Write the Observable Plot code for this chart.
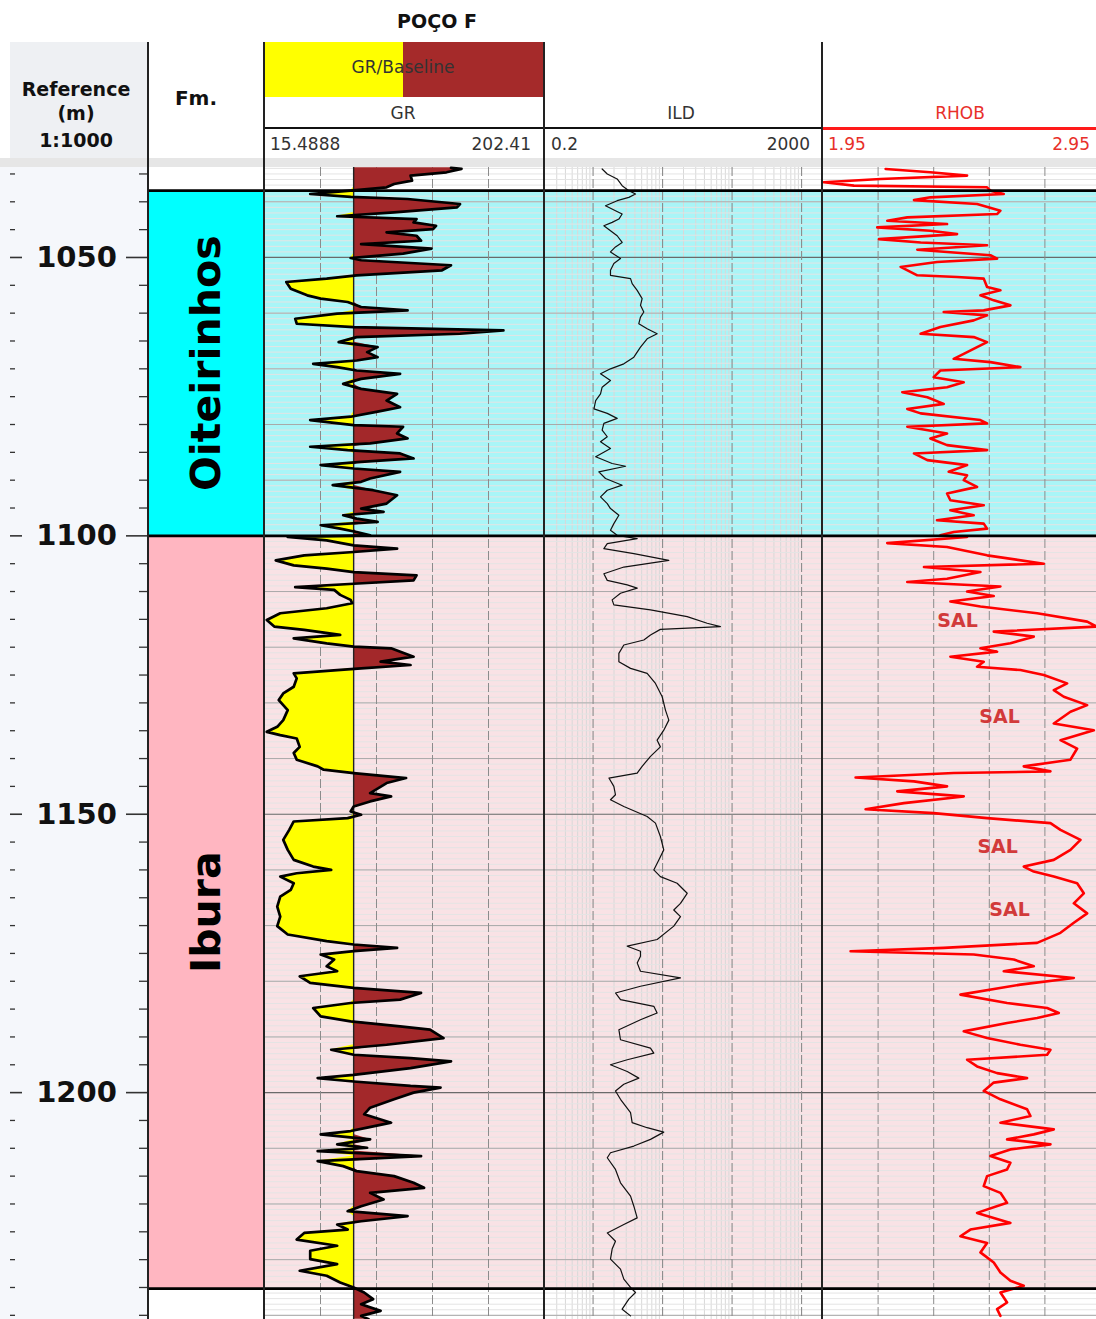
<!DOCTYPE html>
<html><head><meta charset="utf-8">
<script src="https://cdn.jsdelivr.net/npm/d3@7"></script>
<script src="https://cdn.jsdelivr.net/npm/@observablehq/plot@0.6"></script>
<style>
body{margin:0;background:#fff;font-family:"DejaVu Sans",sans-serif;}
#wrap{position:relative;width:1096px;height:1319px;overflow:hidden;background:#fff;}
.t{position:absolute;white-space:nowrap;line-height:1;}
</style></head><body><div id="wrap"></div>
<script>
// ---------------- DATA ----------------
const wellName = "POÇO F";
const formationNames = ["Oiteirinhos", "Ibura"];
const formationTop = [1038, 1100];
const formationBase = [1100, 1235.2];
const formationColor = ["#00ffff", "#ffb6c1"];
const formationTrackColor = ["#a9f5f7", "#f9e2e5"];

const depthLabels = [1050, 1100, 1150, 1200];
const grScale = [15.4888, 202.41];
const grBaseline = 75;
const ildScale = [0.2, 2000];
const rhobScale = [1.95, 2.95];

// GR [depth m, API]
const grLog = [[1033.9,140],[1034.1,147],[1034.7,137],[1035.3,113],[1036.2,114],[1036.8,102],[1037.4,97],[1038.0,73],[1038.6,46],[1039.1,73],[1039.5,111],[1040.4,146],[1041.0,144],[1041.9,102],[1042.6,64],[1043.1,117],[1043.7,115],[1044.3,130],[1044.9,128],[1045.5,97],[1046.1,117],[1047.0,120],[1047.6,80],[1048.4,127],[1049.3,108],[1050.1,73],[1050.5,80],[1051.4,140],[1052.3,134],[1053.2,77],[1053.8,57],[1054.4,30],[1055.6,33],[1056.8,44],[1057.4,53],[1058.0,71],[1058.9,80],[1059.5,111],[1060.1,64],[1061.0,36],[1061.9,37],[1062.5,75],[1063.1,175],[1063.7,146],[1064.3,77],[1065.2,65],[1066.1,91],[1067.0,84],[1067.9,91],[1068.5,77],[1069.1,48],[1069.7,64],[1070.3,77],[1070.9,106],[1071.8,80],[1072.7,68],[1073.6,80],[1074.5,104],[1075.7,97],[1076.9,106],[1077.7,91],[1078.6,73],[1079.2,46],[1080.1,75],[1080.4,108],[1081.6,104],[1082.5,111],[1083.4,86],[1084.0,46],[1084.6,71],[1085.2,106],[1086.1,115],[1086.7,80],[1087.3,53],[1087.9,75],[1088.5,106],[1089.7,86],[1090.3,80],[1090.9,61],[1091.8,88],[1092.7,104],[1094.2,97],[1095.1,80],[1095.7,95],[1096.3,68],[1096.9,77],[1097.5,91],[1098.1,53],[1098.7,66],[1099.3,77],[1099.9,86],
[1100.2,31],[1100.8,57],[1101.7,75],[1102.3,104],[1102.9,75],[1103.5,42],[1104.4,23],[1105.3,35],[1105.9,57],[1106.5,75],[1107.1,117],[1108.0,115],[1108.6,75],[1109.2,36],[1109.7,62],[1110.6,66],[1111.5,73],[1112.1,74],[1113.0,57],[1113.9,26],[1115.1,17],[1116.3,22],[1116.9,42],[1117.8,66],[1118.4,35],[1119.3,57],[1119.9,75],[1120.2,100],[1121.7,115],[1122.6,93],[1123.2,113],[1123.8,80],[1124.1,64],[1124.7,35],[1125.6,37],[1127.1,35],[1128.3,28],[1129.5,25],[1131.3,31],[1133.1,28],[1134.3,24],[1135.2,17],[1135.8,26],[1136.4,37],[1137.9,39],[1139.0,35],[1140.2,37],[1141.4,51],[1142.0,55],[1142.6,75],[1143.5,110],[1144.4,97],[1146.2,86],[1146.8,100],[1147.7,86],[1148.6,75],[1149.5,73],[1150.1,80],[1150.7,71],[1151.3,35],[1152.8,32],[1154.6,28],[1156.4,31],[1158.2,35],[1159.4,48],[1160.0,60],[1160.6,37],[1161.2,26],[1162.4,35],[1163.6,33],[1164.8,26],[1166.6,24],[1168.4,26],[1170.1,24],[1171.6,31],[1172.8,57],[1173.4,75],[1174.0,104],[1174.6,75],[1175.2,53],[1176.1,62],[1177.3,57],[1178.2,64],[1179.1,39],[1180.3,46],[1181.2,75],[1182.1,120],[1183.3,106],[1183.9,73],[1184.8,48],[1186.3,53],[1187.2,73],[1188.1,106],[1188.7,126],[1190.2,135],[1191.4,97],[1192.3,60],[1193.2,75],[1193.8,113],[1194.4,140],[1195.6,113],[1196.8,75],[1197.4,51],[1198.0,75],[1198.8,113],[1199.1,133],[1200.0,115],[1201.2,102],[1202.7,86],[1203.9,82],[1205.4,100],[1206.3,84],[1206.9,73],[1207.5,53],[1208.4,86],[1209.3,64],[1209.9,84],[1210.5,51],[1211.4,120],[1212.3,51],[1213.2,68],[1214.1,77],[1215.0,102],[1216.2,115],[1217.1,122],[1218.0,86],[1219.2,95],[1220.4,80],[1221.3,71],[1222.2,111],[1223.1,80],[1223.7,64],[1224.6,71],[1225.2,42],[1226.4,37],[1227.5,64],[1228.4,46],[1229.9,46],[1230.8,64],[1232.0,39],[1232.9,57],[1234.1,66],[1235.0,75],[1235.9,82],[1237.1,88],[1238.0,80],[1239.2,93],[1240.1,80],[1240.7,85]];

// ILD [depth m, ohm.m]
const ildLog = [[1034.1,1.35],[1035.0,1.6],[1035.9,2.22],[1037.1,2.62],[1038.0,3.27],[1038.6,4.08],[1039.2,3.27],[1039.8,2.22],[1040.7,1.51],[1041.6,2.1],[1042.2,2.62],[1043.1,2.35],[1043.7,1.88],[1044.3,1.43],[1045.2,1.78],[1046.1,2.22],[1047.3,2.62],[1048.1,2.1],[1049.0,1.78],[1050.2,2.48],[1051.1,1.99],[1052.3,1.78],[1053.2,1.78],[1053.8,3.46],[1054.7,3.65],[1055.9,4.31],[1057.4,5.08],[1058.6,4.81],[1059.8,5.37],[1060.7,4.81],[1061.9,4.55],[1062.8,6.0],[1063.7,8.35],[1064.6,6.0],[1066.1,4.81],[1067.9,3.86],[1069.1,2.77],[1070.0,1.78],[1070.9,1.28],[1072.1,1.78],[1073.3,1.35],[1074.5,1.28],[1075.7,1.09],[1077.2,1.03],[1078.0,1.6],[1078.9,2.22],[1079.8,1.43],[1081.0,1.35],[1082.2,1.6],[1083.1,1.28],[1084.3,1.78],[1085.8,1.09],[1087.0,1.88],[1087.5,2.93],[1088.5,1.21],[1089.7,1.51],[1090.9,2.62],[1091.8,1.6],[1093.0,1.28],[1094.2,1.6],[1095.1,1.78],[1096.3,2.35],[1097.8,1.99],[1099.0,1.78],[1099.9,2.22],
[1100.5,4.31],[1101.4,1.6],[1102.3,1.43],[1103.2,3.86],[1104.4,12.3],[1105.6,2.77],[1106.8,1.43],[1108.0,1.6],[1108.8,3.1],[1109.4,4.31],[1110.3,2.48],[1111.5,1.88],[1112.4,1.99],[1113.3,6.7],[1114.5,22.6],[1115.7,43.8],[1116.3,68],[1116.8,9.3],[1117.8,6.7],[1118.7,5.37],[1119.6,2.77],[1121.1,2.35],[1122.6,2.35],[1123.8,3.46],[1124.7,6.0],[1126.5,7.9],[1128.9,9.87],[1131.3,11.0],[1133.1,12.3],[1134.9,10.4],[1136.7,8.35],[1137.9,9.3],[1139.6,6.7],[1141.4,5.08],[1142.6,4.31],[1143.5,1.69],[1145.0,1.99],[1146.5,2.1],[1147.4,1.78],[1148.6,2.77],[1150.4,6.0],[1151.6,7.9],[1154.0,9.3],[1156.4,10.4],[1158.2,8.83],[1160.0,7.48],[1161.2,9.3],[1162.4,16.2],[1164.2,22.6],[1166.0,18.1],[1167.2,14.5],[1168.4,18.1],[1170.1,14.5],[1172.5,8.35],[1173.7,3.1],[1174.6,4.81],[1175.5,4.81],[1176.7,4.31],[1178.2,4.81],[1179.4,18.1],
[1180.9,4.81],[1182.1,2.1],[1183.3,2.48],[1184.5,7.48],[1185.7,8.35],[1186.9,4.81],[1188.7,2.35],[1190.5,2.48],[1192.0,6.7],[1192.9,7.48],[1194.1,3.1],[1195.0,1.78],[1196.2,3.1],[1197.4,4.55],[1198.5,2.77],[1199.7,2.1],[1201.2,2.48],[1203.6,3.46],[1205.4,3.65],[1206.3,6.0],[1207.1,10.4],[1208.4,6.7],[1209.6,3.86],[1210.8,1.78],[1211.7,1.6],[1213.8,2.1],[1216.2,2.48],[1218.6,3.46],[1220.4,3.86],[1222.5,4.31],[1223.7,2.77],[1225.2,1.6],[1226.7,2.1],[1228.1,1.88],[1229.9,1.78],[1231.7,2.48],[1233.5,2.77],[1235.0,3.46],[1235.9,4.08],[1237.1,3.27],[1238.9,2.62],[1240.1,3.46]];

// RHOB [depth m, g/cc]
const rhobLog = [[1034.1,2.177],[1034.7,2.338],[1035.3,2.470],[1035.9,2.159],[1036.5,1.955],[1037.1,2.063],[1037.4,2.542],[1038.0,2.554],[1038.6,2.602],[1039.2,2.338],[1039.7,2.279],[1040.4,2.506],[1041.6,2.590],[1042.2,2.578],[1042.8,2.255],[1043.4,2.183],[1044.0,2.398],[1044.6,2.147],[1045.2,2.338],[1045.8,2.434],[1046.7,2.153],[1047.3,2.303],[1047.8,2.542],[1048.6,2.291],[1049.6,2.554],[1050.2,2.578],[1050.8,2.362],[1051.7,2.231],[1053.2,2.291],[1053.5,2.434],[1053.8,2.530],[1055.3,2.542],[1055.9,2.590],[1056.8,2.518],[1057.7,2.566],[1058.6,2.626],[1059.5,2.530],[1059.8,2.386],[1060.4,2.542],[1061.3,2.494],[1062.5,2.374],[1063.7,2.303],[1064.3,2.494],[1065.2,2.542],[1066.1,2.506],[1067.3,2.458],[1068.2,2.422],[1068.8,2.554],[1069.7,2.662],[1070.3,2.374],[1071.5,2.350],[1072.4,2.458],[1073.3,2.398],[1074.2,2.237],[1075.1,2.327],[1076.3,2.386],[1077.2,2.255],[1078.0,2.303],[1079.2,2.518],[1079.8,2.542],[1080.4,2.255],[1081.6,2.398],[1082.5,2.338],[1083.7,2.398],[1084.6,2.542],[1085.2,2.279],[1086.4,2.327],[1087.3,2.470],[1088.5,2.404],[1089.1,2.470],[1090.0,2.458],[1091.2,2.506],[1092.4,2.398],[1093.6,2.410],[1094.5,2.530],[1095.4,2.410],[1096.3,2.494],[1097.2,2.362],[1097.8,2.530],[1098.7,2.542],[1099.3,2.422],[1099.9,2.374],
[1100.2,2.470],[1101.3,2.183],[1102.0,2.398],[1103.5,2.542],[1105.0,2.746],[1105.6,2.315],[1106.5,2.518],[1107.7,2.398],[1108.3,2.255],[1109.1,2.590],[1110.0,2.470],[1110.8,2.566],[1111.8,2.410],[1112.7,2.518],[1113.9,2.722],[1115.4,2.902],[1116.3,2.936],[1117.2,2.566],[1118.1,2.710],[1119.3,2.626],[1120.2,2.518],[1120.8,2.578],[1121.7,2.410],[1122.6,2.530],[1123.5,2.506],[1124.1,2.662],[1125.0,2.746],[1126.5,2.830],[1127.7,2.782],[1128.9,2.818],[1130.4,2.902],[1131.6,2.842],[1133.7,2.782],[1134.9,2.926],[1136.7,2.806],[1138.2,2.866],[1140.2,2.842],[1141.4,2.674],[1142.3,2.770],[1142.6,2.422],[1143.4,2.069],[1144.1,2.279],[1145.0,2.398],[1145.9,2.219],[1146.8,2.458],[1148.0,2.243],[1149.1,2.105],[1149.8,2.350],[1150.7,2.542],[1151.6,2.770],[1152.8,2.806],[1154.6,2.878],[1156.4,2.842],[1158.2,2.782],[1159.4,2.674],[1160.3,2.710],[1161.2,2.782],[1162.4,2.866],[1164.2,2.890],[1166.0,2.854],[1167.8,2.902],[1169.5,2.854],[1171.3,2.806],[1173.1,2.722],[1174.0,2.386],[1174.6,2.051],[1175.2,2.494],[1176.1,2.638],[1177.3,2.710],[1178.2,2.602],[1179.4,2.854],
[1180.6,2.662],[1182.4,2.446],[1183.9,2.614],[1184.8,2.758],[1185.7,2.800],[1186.6,2.722],[1187.5,2.614],[1189.0,2.458],[1190.2,2.542],[1191.4,2.662],[1192.3,2.770],[1193.2,2.758],[1194.1,2.470],[1195.3,2.506],[1196.5,2.578],[1197.4,2.686],[1198.2,2.566],[1199.7,2.530],[1201.2,2.590],[1203.0,2.686],[1204.2,2.698],[1205.4,2.590],[1206.6,2.782],[1207.5,2.710],[1208.4,2.614],[1209.3,2.770],[1210.2,2.626],[1211.4,2.554],[1212.6,2.626],[1213.8,2.614],[1215.0,2.542],[1216.8,2.530],[1218.0,2.590],[1219.8,2.614],[1221.6,2.506],[1223.4,2.626],[1224.6,2.482],[1225.8,2.446],[1227.0,2.542],[1228.7,2.518],[1230.5,2.566],[1232.3,2.590],[1233.8,2.626],[1234.7,2.674],[1235.9,2.590],[1237.7,2.614],[1238.9,2.578],[1240.1,2.590]];

const salDepth = [1115.3, 1132.5, 1155.8, 1167.2];
const salRhob = [2.436, 2.587, 2.58, 2.623];

// ---------------- BUILD ----------------
const wrap = document.getElementById("wrap");
const depthDomain = [1033.84, 1240.75];
const PLOT_TOP = 167, PLOT_H = 1152;
const FONT = "DejaVu Sans";

const gr = grLog.map(([d, v]) => ({d, v}));
const ild = ildLog.map(([d, v]) => ({d, v}));
const rhob = rhobLog.map(([d, v]) => ({d, v}));
const forms = formationNames.map((name, i) => ({name, top: formationTop[i], base: formationBase[i], fm: formationColor[i], bg: formationTrackColor[i]}));
const boundaries = [...formationTop, formationBase[formationBase.length - 1]];
const sal = salDepth.map((d, i) => ({d, v: salRhob[i]}));

function box(left, top, w, h, bg) {
  const el = document.createElement("div");
  Object.assign(el.style, {position: "absolute", left: left + "px", top: top + "px", width: w + "px", height: h + "px", background: bg});
  wrap.appendChild(el);
  return el;
}
function label(text, x, y, {size = 17, weight = "normal", color = "#222", anchor = "middle"} = {}) {
  const el = document.createElement("div");
  el.className = "t";
  el.textContent = text;
  Object.assign(el.style, {left: x + "px", top: y + "px", fontSize: size + "px", fontWeight: weight, color, fontFamily: FONT});
  const tx = anchor === "middle" ? "-50%" : anchor === "end" ? "-100%" : "0";
  el.style.transform = `translate(${tx},-50%)`;
  wrap.appendChild(el);
}
function place(node, left) {
  node.style.position = "absolute";
  node.style.left = left + "px";
  node.style.top = PLOT_TOP + "px";
  wrap.appendChild(node);
}

// header backgrounds
box(10, 42, 138, 116, "#eef0f3");
box(0, 158, 1096, 9, "#e6e6e6");
box(0, PLOT_TOP, 148, PLOT_H, "#f5f7fb");
box(264, 42, 139, 55, "#ffff00");
box(403, 42, 141, 55, "#a52a2a");
box(264, 127, 558, 2, "#111");
box(822, 126.5, 274, 3, "#ff1a1a");

label(wellName, 437, 21, {size: 19, weight: "bold", color: "#111"});
label("Reference", 76, 89, {size: 19, weight: "bold", color: "#111"});
label("(m)", 76, 113, {size: 19, weight: "bold", color: "#111"});
label("1:1000", 76, 140, {size: 19, weight: "bold", color: "#111"});
label("Fm.", 196, 98, {size: 20, weight: "bold", color: "#111"});
label("GR/Baseline", 403, 67, {size: 17, color: "#333"});
label("GR", 403, 113, {size: 17, color: "#333"});
label("ILD", 681, 113, {size: 17, color: "#333"});
label("RHOB", 960, 113, {size: 17, color: "#e8302a"});
label(String(grScale[0]), 270, 144, {size: 17, color: "#333", anchor: "start"});
label(String(grScale[1]), 531, 144, {size: 17, color: "#333", anchor: "end"});
label(String(ildScale[0]), 551, 144, {size: 17, color: "#333", anchor: "start"});
label(String(ildScale[1]), 810, 144, {size: 17, color: "#333", anchor: "end"});
label(rhobScale[0].toFixed(2), 828, 144, {size: 17, color: "#e8302a", anchor: "start"});
label(rhobScale[1].toFixed(2), 1090, 144, {size: 17, color: "#e8302a", anchor: "end"});

// grids
const minor1 = d3.range(1034, 1241, 1);
const grid10 = d3.range(1040, 1241, 10).filter(d => d % 50 !== 0);
const grid50 = depthLabels;
const hGrid = () => [
  Plot.ruleY(minor1, {stroke: "#e4e4e4", strokeWidth: 1}),
  Plot.ruleY(grid10, {stroke: "#a9a9a9", strokeWidth: 1}),
  Plot.ruleY(grid50, {stroke: "#6a6a6a", strokeWidth: 1.2})
];
const bounds = () => Plot.ruleY(boundaries, {stroke: "#000", strokeWidth: 2.6});
const bg = (dom) => Plot.rect(forms, {x1: dom[0], x2: dom[1], y1: "top", y2: "base", fill: "bg"});

function trackPlot(width, x, marks) {
  return Plot.plot({
    width, height: PLOT_H, margin: 0,
    x: {...x, axis: null},
    y: {domain: depthDomain, reverse: true, axis: null},
    color: {type: "identity"},
    style: {background: "transparent", fontFamily: FONT, overflow: "visible"},
    marks
  });
}

// Depth track
const minorTicks = d3.range(1035, 1241, 5).filter(d => d % 50 !== 0);
place(Plot.plot({
  width: 148, height: PLOT_H, margin: 0,
  y: {domain: depthDomain, reverse: true, axis: null},
  style: {background: "transparent", fontFamily: FONT},
  marks: [
    Plot.tickY(minorTicks, {y: d => d, insetLeft: 10, insetRight: 133, stroke: "#333", strokeWidth: 1.3}),
    Plot.tickY(minorTicks, {y: d => d, insetLeft: 139, insetRight: 0, stroke: "#333", strokeWidth: 1.3}),
    Plot.tickY(depthLabels, {y: d => d, insetLeft: 10, insetRight: 126, stroke: "#333", strokeWidth: 1.6}),
    Plot.tickY(depthLabels, {y: d => d, insetLeft: 126, insetRight: 0, stroke: "#333", strokeWidth: 1.6}),
    Plot.text(depthLabels, {y: d => d, text: d => String(d), frameAnchor: "left", dx: 76, textAnchor: "middle", fontSize: 29, fontWeight: "bold", fill: "#111"})
  ]
}), 0);

// Formation track
place(trackPlot(116, {domain: [0, 1]}, [
  Plot.rect(forms, {x1: 0, x2: 1, y1: "top", y2: "base", fill: "fm"}),
  Plot.text(forms, {x: 0.5, y: d => (d.top + d.base) / 2, text: "name", rotate: -90, fontSize: 41, fontWeight: "bold", fill: "#000"}),
  bounds()
]), 148);

// GR track
const grDiv = d3.range(1, 5).map(k => grScale[0] + k * (grScale[1] - grScale[0]) / 5);
place(trackPlot(280, {domain: grScale}, [
  bg(grScale),
  ...hGrid(),
  Plot.ruleX(grDiv, {stroke: "#8c8c8c", strokeWidth: 1, strokeDasharray: "9,3"}),
  Plot.areaX(gr, {y: "d", x1: grBaseline, x2: d => Math.min(d.v, grBaseline), fill: "#ffff00"}),
  Plot.areaX(gr, {y: "d", x1: grBaseline, x2: d => Math.max(d.v, grBaseline), fill: "#a3282a"}),
  Plot.ruleX([grBaseline], {stroke: "#222", strokeWidth: 1.4}),
  Plot.line(gr, {x: "v", y: "d", stroke: "#000", strokeWidth: 2.7}),
  bounds()
]), 264);

// ILD track
const ildMajor = [1, 10, 100, 1000];
const ildMinor = [];
for (const p of [0.1, 1, 10, 100, 1000]) for (let m = 2; m <= 9; m++) { const v = +(m * p).toPrecision(3); if (v > ildScale[0] && v < ildScale[1]) ildMinor.push(v); }
place(trackPlot(278, {type: "log", domain: ildScale}, [
  bg(ildScale),
  Plot.ruleX(ildMinor, {stroke: "#d8d8d8", strokeWidth: 1}),
  ...hGrid(),
  Plot.ruleX(ildMajor, {stroke: "#8c8c8c", strokeWidth: 1.1, strokeDasharray: "9,3"}),
  Plot.line(ild, {x: "v", y: "d", stroke: "#111", strokeWidth: 1.2}),
  bounds()
]), 544);

// RHOB track
const rhobDiv = d3.range(1, 5).map(k => rhobScale[0] + k * (rhobScale[1] - rhobScale[0]) / 5);
place(trackPlot(278, {domain: rhobScale}, [
  bg(rhobScale),
  ...hGrid(),
  Plot.ruleX(rhobDiv, {stroke: "#8c8c8c", strokeWidth: 1, strokeDasharray: "9,3"}),
  Plot.line(rhob, {x: "v", y: "d", stroke: "#ff0000", strokeWidth: 2.6}),
  Plot.text(sal, {x: "v", y: "d", text: () => "SAL", fill: "#d23a3a", fontSize: 19, fontWeight: "bold"}),
  bounds()
]), 822);

// track separators
for (const x of [148, 264, 544, 822]) box(x - 1, 42, 2, 1319 - 42, "#222");
</script></body></html>
